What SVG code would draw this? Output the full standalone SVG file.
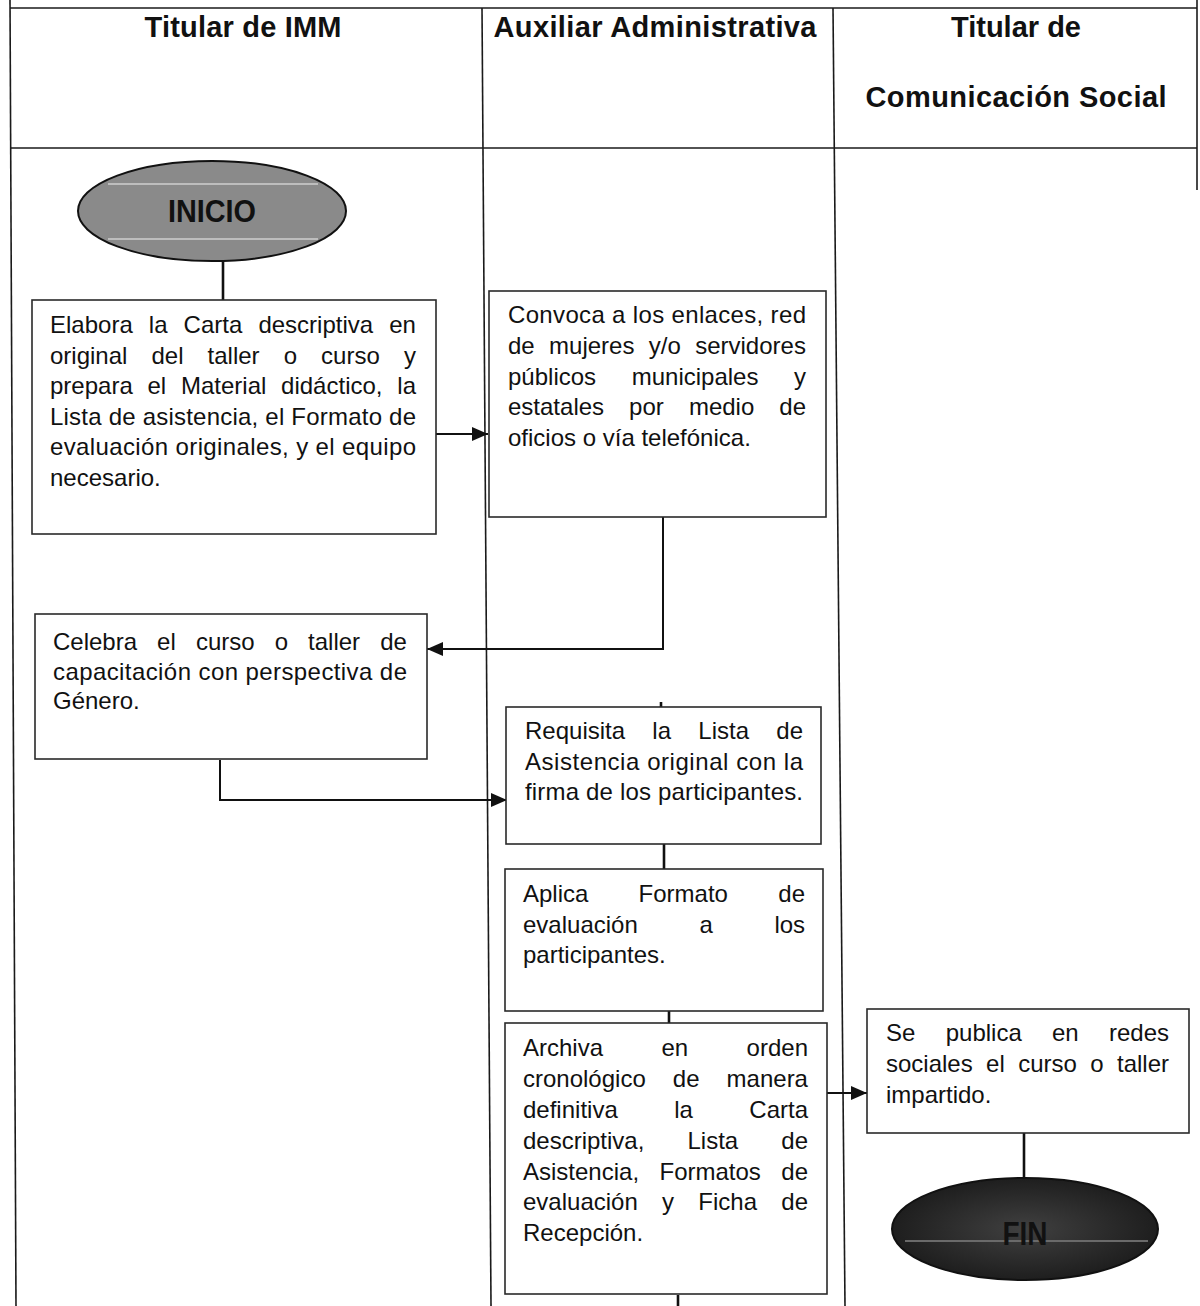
<svg xmlns="http://www.w3.org/2000/svg" width="1200" height="1306" viewBox="0 0 1200 1306">
<style>
.frame{stroke:#1a1a1a;stroke-width:1.6;fill:none}
.box{fill:#fff;stroke:#2a2a2a;stroke-width:1.6}
.hd{font-family:"Liberation Sans",Arial,sans-serif;font-weight:bold;font-size:29px;fill:#111;text-anchor:middle}
.t{font-family:"Liberation Sans",Arial,sans-serif;font-size:24px;fill:#111}
.con{stroke:#111;stroke-width:2.6;fill:none}
.arr{stroke:#111;stroke-width:2;fill:none;marker-end:url(#ah)}
.term{font-family:"Liberation Sans",Arial,sans-serif;font-weight:bold;fill:#111;text-anchor:middle}
</style>
<defs>
<marker id="ah" markerUnits="userSpaceOnUse" markerWidth="16" markerHeight="14" refX="16" refY="7" orient="auto">
<path d="M0,0 L16,7 L0,14 z" fill="#111"/>
</marker>
<radialGradient id="gfin" cx="0.5" cy="0.5" r="0.5">
<stop offset="0" stop-color="#404040"/>
<stop offset="1" stop-color="#1e1e1e"/>
</radialGradient>
</defs>
<rect width="1200" height="1306" fill="#fff"/>

<g id="lanes">
<line class="frame" x1="10" y1="8" x2="1197" y2="8"/>
<line class="frame" x1="10" y1="148" x2="1197" y2="148"/>
<line class="frame" x1="10" y1="0" x2="16" y2="1306"/>
<line class="frame" x1="1197" y1="0" x2="1197" y2="190"/>
<line class="frame" x1="482" y1="8" x2="491" y2="1306"/>
<line class="frame" x1="833" y1="8" x2="845" y2="1306"/>
<text class="hd" x="243" y="37" textLength="197">Titular de IMM</text>
<text class="hd" x="655" y="37" textLength="323">Auxiliar Administrativa</text>
<text class="hd" x="1016" y="37">Titular de</text>
<text class="hd" x="1016" y="107" textLength="301">Comunicación Social</text>
</g>

<g id="connectors">
<line class="con" x1="223" y1="261" x2="223" y2="300"/>
<line class="arr" x1="436" y1="434" x2="488" y2="434"/>
<path class="arr" d="M663,517 V649 H427"/>
<path class="arr" d="M220,760 V800 H507"/>
<line class="con" x1="664" y1="844" x2="664" y2="869"/>
<line class="con" x1="669" y1="1011" x2="669" y2="1023"/>
<line class="arr" x1="827" y1="1093" x2="867" y2="1093"/>
<line class="con" x1="1024" y1="1133" x2="1024" y2="1178"/>
<line class="con" x1="678" y1="1295" x2="678" y2="1306"/>
<line class="con" x1="661" y1="702" x2="661" y2="707"/>
</g>

<g id="inicio">
<ellipse cx="212" cy="211" rx="134" ry="50" fill="#8a8a8a" stroke="#111" stroke-width="2"/>
<line x1="108" y1="184" x2="318" y2="184" stroke="#bdbdbd" stroke-width="2"/>
<line x1="108" y1="239" x2="318" y2="239" stroke="#bdbdbd" stroke-width="2"/>
<text class="term" x="212" y="222" font-size="32" textLength="88" lengthAdjust="spacingAndGlyphs">INICIO</text>
</g>

<g id="n1">
<rect class="box" x="32" y="300" width="404" height="234"/>
<text class="t" y="333"><tspan x="50">Elabora</tspan><tspan x="148.8">la</tspan><tspan x="183.6">Carta</tspan><tspan x="258.4">descriptiva</tspan><tspan x="389.2">en</tspan></text>
<text class="t" y="363.6"><tspan x="50">original</tspan><tspan x="151.5">del</tspan><tspan x="207.6">taller</tspan><tspan x="283.7">o</tspan><tspan x="321.1">curso</tspan><tspan x="403.9">y</tspan></text>
<text class="t" y="394.2"><tspan x="50">prepara</tspan><tspan x="147.5">el</tspan><tspan x="181">Material</tspan><tspan x="281.1">didáctico,</tspan><tspan x="397.3">la</tspan></text>
<text class="t" x="50" y="424.8" textLength="366">Lista de asistencia, el Formato de</text>
<text class="t" x="50" y="455.4" textLength="366">evaluación originales, y el equipo</text>
<text class="t" x="50" y="486">necesario.</text>
</g>

<g id="n2">
<rect class="box" x="489" y="291" width="337" height="226"/>
<text class="t" x="508" y="323" textLength="298">Convoca a los enlaces, red</text>
<text class="t" y="354"><tspan x="508">de</tspan><tspan x="549.1">mujeres</tspan><tspan x="648.8">y/o</tspan><tspan x="695.2">servidores</tspan></text>
<text class="t" y="384.5"><tspan x="508">públicos</tspan><tspan x="631.7">municipales</tspan><tspan x="794">y</tspan></text>
<text class="t" y="415"><tspan x="508">estatales</tspan><tspan x="629.1">por</tspan><tspan x="688.9">medio</tspan><tspan x="779.3">de</tspan></text>
<text class="t" x="508" y="446">oficios o vía telefónica.</text>
</g>

<g id="n3">
<rect class="box" x="35" y="614" width="392" height="145"/>
<text class="t" y="650"><tspan x="53">Celebra</tspan><tspan x="157.1">el</tspan><tspan x="195.9">curso</tspan><tspan x="274.7">o</tspan><tspan x="308.1">taller</tspan><tspan x="380.2">de</tspan></text>
<text class="t" x="53" y="679.5" textLength="354">capacitación con perspectiva de</text>
<text class="t" x="53" y="709">Género.</text>
</g>

<g id="n4">
<rect class="box" x="506" y="707" width="315" height="137"/>
<text class="t" y="739"><tspan x="525">Requisita</tspan><tspan x="652.3">la</tspan><tspan x="698.3">Lista</tspan><tspan x="776.3">de</tspan></text>
<text class="t" x="525" y="770" textLength="278">Asistencia original con la</text>
<text class="t" x="525" y="800" textLength="278">firma de los participantes.</text>
</g>

<g id="n5">
<rect class="box" x="505" y="869" width="318" height="142"/>
<text class="t" y="902"><tspan x="523">Aplica</tspan><tspan x="638.6">Formato</tspan><tspan x="778.3">de</tspan></text>
<text class="t" y="932.5"><tspan x="523">evaluación</tspan><tspan x="699.4">a</tspan><tspan x="774.4">los</tspan></text>
<text class="t" x="523" y="963">participantes.</text>
</g>

<g id="n6">
<rect class="box" x="505" y="1023" width="322" height="271"/>
<text class="t" y="1056"><tspan x="523">Archiva</tspan><tspan x="661.5">en</tspan><tspan x="746.6">orden</tspan></text>
<text class="t" y="1087"><tspan x="523">cronológico</tspan><tspan x="672.8">de</tspan><tspan x="726.6">manera</tspan></text>
<text class="t" y="1118"><tspan x="523">definitiva</tspan><tspan x="674.2">la</tspan><tspan x="749.3">Carta</tspan></text>
<text class="t" y="1149"><tspan x="523">descriptiva,</tspan><tspan x="687.5">Lista</tspan><tspan x="781.3">de</tspan></text>
<text class="t" y="1180"><tspan x="523">Asistencia,</tspan><tspan x="659.5">Formatos</tspan><tspan x="781.3">de</tspan></text>
<text class="t" y="1210"><tspan x="523">evaluación</tspan><tspan x="662">y</tspan><tspan x="698.3">Ficha</tspan><tspan x="781.3">de</tspan></text>
<text class="t" x="523" y="1241">Recepción.</text>
</g>

<g id="n7">
<rect class="box" x="867" y="1009" width="322" height="124"/>
<text class="t" y="1041"><tspan x="886">Se</tspan><tspan x="945.7">publica</tspan><tspan x="1052">en</tspan><tspan x="1109">redes</tspan></text>
<text class="t" y="1072"><tspan x="886">sociales</tspan><tspan x="986.1">el</tspan><tspan x="1018.2">curso</tspan><tspan x="1090.3">o</tspan><tspan x="1117">taller</tspan></text>
<text class="t" x="886" y="1103">impartido.</text>
</g>

<g id="fin">
<ellipse cx="1025" cy="1229" rx="133" ry="51" fill="url(#gfin)" stroke="#111" stroke-width="2"/>
<line x1="905" y1="1241" x2="1148" y2="1241" stroke="#6a6a6a" stroke-width="2"/>
<text class="term" x="1025" y="1245" font-size="34" fill="#0d0d0d" textLength="45" lengthAdjust="spacingAndGlyphs">FIN</text>
</g>
</svg>
